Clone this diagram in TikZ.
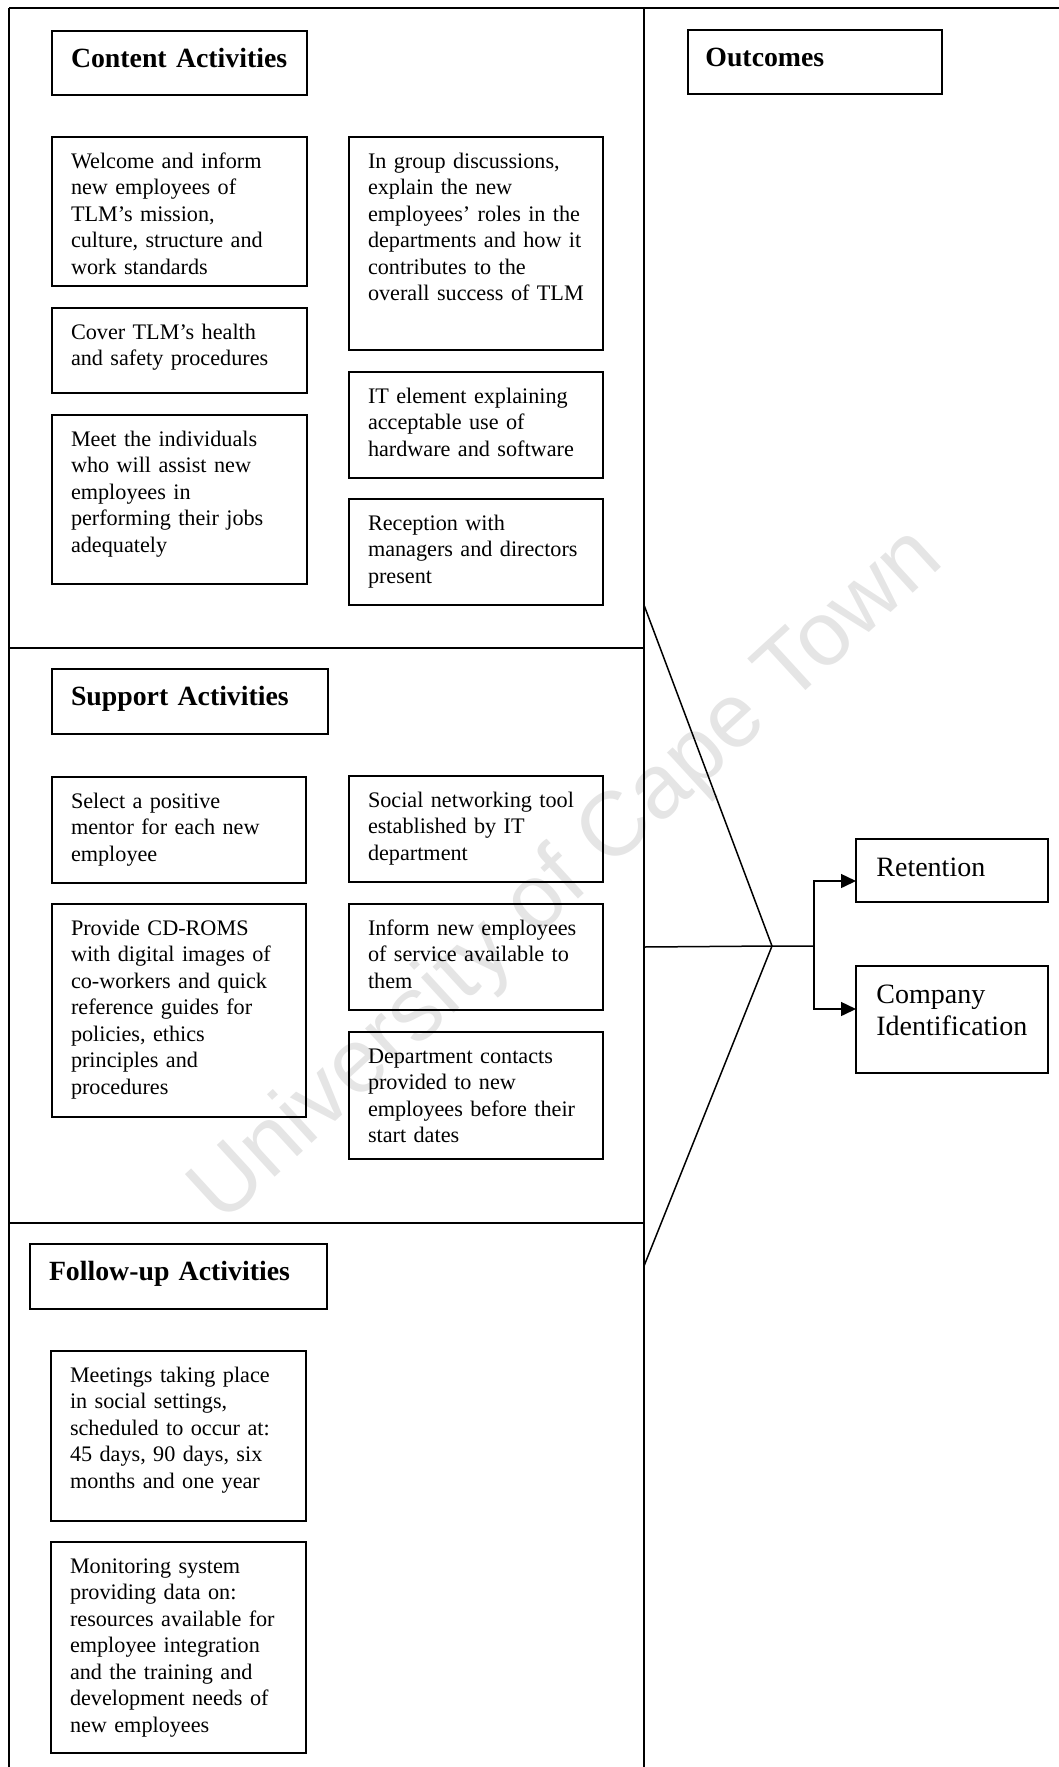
\documentclass[tikz,border=0pt]{standalone}
\usepackage{fontspec}
\setmainfont{Liberation Serif}
\newfontfamily\wmfont{Liberation Sans}
\usetikzlibrary{arrows.meta}
\tikzset{
	rule/.style={line width=0.75pt},
	frame/.style={draw, line width=0.75pt, anchor=north west, inner sep=0pt, outer sep=0pt},
	bodytext/.style={anchor=north west, inner sep=0pt, align=left, xshift=9.3pt, yshift=-6.5pt, text height=9pt, font=\fontsize{11.1}{13.25}\selectfont},
	headtext/.style={bodytext, yshift=-0.5pt, text height=11pt, font=\fontsize{13.9}{16}\selectfont\bfseries},
	outtext/.style={bodytext, xshift=0.7pt, yshift=-1pt, text height=11pt, font=\fontsize{14}{16}\selectfont},
	wmark/.style={rotate=42.5, text=black!10, font=\wmfont\fontsize{45.5}{45.5}\selectfont},
	conn/.style={line width=0.75pt, -{Triangle[length=7.5pt,width=7pt]}}
}
% box: [text style] name (x1,y1)(x2,y2) {text}, coordinates in pixels
\def\actbox[#1]#2(#3,#4)(#5,#6)#7{%
	\node[frame, minimum width={(#5-#3)*0.5pt}, minimum height={(#6-#4)*0.5pt}] (#2) at (#3,#4) {};
	\node[#1, text width={(#5-#3)*0.5pt-10pt}] (#2-t) at (#2.north west) {#7};%
}

\begin{document}
\begin{tikzpicture}[x=0.5pt, y=-0.5pt]
			%%%%% START %%%%%
			\useasboundingbox (0,0) rectangle (1059,1767);
			
			\node[wmark] (wm) at (568,877) {University of Cape Town};
			
			\draw[rule] (9,8) -- (1059,8);
			\draw[rule] (9,8) -- (9,1767);
			\draw[rule] (644,8) -- (644,1767);
			\draw[rule] (9,648) -- (644,648);
			\draw[rule] (9,1223) -- (644,1223);
			
			\actbox[headtext]{content}(52,31)(307,95){Content Activities}
			\actbox[bodytext]{welcome}(52,137)(307,286){Welcome and inform\\new employees of\\TLM’s mission,\\culture, structure and\\work standards}
			\actbox[bodytext]{cover}(52,308)(307,393){Cover TLM’s health\\and safety procedures}
			\actbox[bodytext]{meet}(52,415)(307,584){Meet the individuals\\who will assist new\\employees in\\performing their jobs\\adequately}
			\actbox[bodytext]{ingroup}(349,137)(603,350){In group discussions,\\explain the new\\employees’ roles in the\\departments and how it\\contributes to the\\overall success of TLM}
			\actbox[bodytext]{itel}(349,372)(603,478){IT element explaining\\acceptable use of\\hardware and software}
			\actbox[bodytext]{recep}(349,499)(603,605){Reception with\\managers and directors\\present}
			
			\actbox[headtext]{support}(52,669)(328,734){Support Activities}
			\actbox[bodytext]{select}(52,777)(306,883){Select a positive\\mentor for each new\\employee}
			\actbox[bodytext]{provide}(52,904)(306,1117){Provide CD-ROMS\\with digital images of\\co-workers and quick\\reference guides for\\policies, ethics\\principles and\\procedures}
			\actbox[bodytext]{social}(349,776)(603,882){Social networking tool\\established by IT\\department}
			\actbox[bodytext]{inform}(349,904)(603,1010){Inform new employees\\of service available to\\them}
			\actbox[bodytext]{dept}(349,1032)(603,1159){Department contacts\\provided to new\\employees before their\\start dates}
			
			\actbox[headtext]{follow}(30,1244)(327,1309){Follow-up Activities}
			\actbox[bodytext]{meetings}(51,1351)(306,1521){Meetings taking place\\in social settings,\\scheduled to occur at:\\45 days, 90 days, six\\months and one year}
			\actbox[bodytext]{monitor}(51,1542)(306,1753){Monitoring system\\providing data on:\\resources available for\\employee integration\\and the training and\\development needs of\\new employees}
			
			\actbox[headtext, xshift=-0.8pt]{outcomes}(688,30)(942,94){Outcomes}
			\actbox[outtext]{ret}(856,839)(1048,902){Retention}
			\actbox[outtext]{comp}(856,966)(1048,1073){Company\\Identification}
			
			\coordinate (funtop) at (644,605);
			\coordinate (funmid) at (644,947);
			\coordinate (funbot) at (644,1266);
			\coordinate (fun) at (772,946);
			\coordinate (fork) at (814,946);
			\draw[rule] (funtop) -- (fun) -- (funbot);
			\draw[rule] (funmid) -- (fun) -- (fork);
			\draw[conn] (fork) |- ([yshift=-5.25pt]ret.west);
			\draw[conn] (fork) |- ([yshift=5.25pt]comp.west);
			
			%%%%% END %%%%%
\end{tikzpicture}
\end{document}
